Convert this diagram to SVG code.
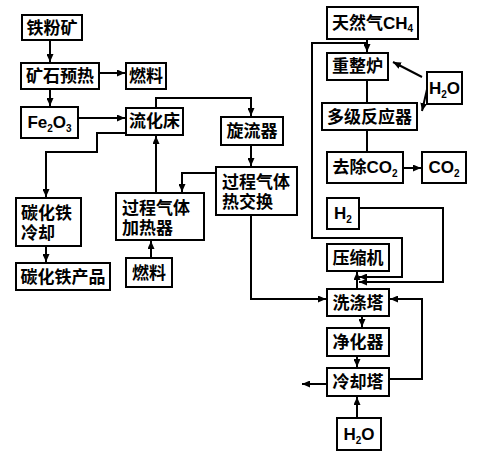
<svg xmlns="http://www.w3.org/2000/svg" width="494" height="454" viewBox="0 0 494 454">
<style>
.b{fill:#fff;stroke:#000;stroke-width:2}
.t{font-family:"Liberation Sans","Noto Sans CJK SC",sans-serif;font-size:17px;font-weight:bold;fill:#000}
.c{text-anchor:middle}
.s{font-size:10px}
.l{fill:none;stroke:#000;stroke-width:2}
</style>
<defs>
<marker id="a" markerUnits="userSpaceOnUse" markerWidth="8" markerHeight="7" refX="8" refY="3.5" orient="auto">
<path d="M0,0L8,3.5L0,7z" fill="#000"/>
</marker>
</defs>
<rect width="494" height="454" fill="#fff"/>
<g id="connectors">
<path class="l" d="M50 40V62" marker-end="url(#a)"/>
<path class="l" d="M99 73H125" marker-end="url(#a)"/>
<path class="l" d="M50 89V106" marker-end="url(#a)"/>
<path class="l" d="M78 118H125" marker-end="url(#a)"/>
<path class="l" d="M156 108V98H251V116" marker-end="url(#a)"/>
<path class="l" d="M126 133H97V152H46V197" marker-end="url(#a)"/>
<path class="l" d="M46 246V262" marker-end="url(#a)"/>
<path class="l" d="M156 193V136" marker-end="url(#a)"/>
<path class="l" d="M151 258V241" marker-end="url(#a)"/>
<path class="l" d="M216 173H182V192" marker-end="url(#a)"/>
<path class="l" d="M251 145V166" marker-end="url(#a)"/>
<path class="l" d="M251 215V299H326" marker-end="url(#a)"/>
<path class="l" d="M367 39V52" marker-end="url(#a)"/>
<path class="l" d="M367 43H312V238H402V277H359" marker-end="url(#a)"/>
<path class="l" d="M359 208H443V282H359" marker-end="url(#a)"/>
<path class="l" d="M357 289V272" marker-end="url(#a)"/>
<path class="l" d="M422 77L393 62" marker-end="url(#a)"/>
<path class="l" d="M428 85L422 111" marker-end="url(#a)"/>
<path class="l" d="M367 80V103"/>
<path class="l" d="M367 130V152"/>
<path class="l" d="M403 168H421" marker-end="url(#a)"/>
<path class="l" d="M362 316V327" marker-end="url(#a)"/>
<path class="l" d="M357 356V367" marker-end="url(#a)"/>
<path class="l" d="M327 384H302" marker-end="url(#a)"/>
<path class="l" d="M389 379H422V299H390" marker-end="url(#a)"/>
<path class="l" d="M357 418V397" marker-end="url(#a)"/>
</g>
<g id="n1"><rect class="b" x="22" y="15" width="60" height="25"/><text class="t c" x="52" y="34">铁粉矿</text></g>
<g id="n2"><rect class="b" x="21" y="63" width="78" height="26"/><text class="t c" x="60" y="82">矿石预热</text></g>
<g id="n3"><rect class="b" x="126" y="63" width="40" height="26"/><text class="t c" x="146" y="82">燃料</text></g>
<g id="n4"><rect class="b" x="21" y="107" width="57" height="31"/><text class="t c" x="49.5" y="128">Fe<tspan class="s" dy="4">2</tspan><tspan dy="-4">O</tspan><tspan class="s" dy="4">3</tspan></text></g>
<g id="n5"><rect class="b" x="126" y="108" width="57" height="27"/><text class="t c" x="154.5" y="127">流化床</text></g>
<g id="n6"><rect class="b" x="221" y="117" width="62" height="28"/><text class="t c" x="252" y="137">旋流器</text></g>
<g id="n7"><rect class="b" x="16" y="198" width="65" height="48"/><text class="t" x="21" y="219">碳化铁</text><text class="t" x="21" y="239">冷却</text></g>
<g id="n8"><rect class="b" x="16" y="263" width="94" height="27"/><text class="t c" x="63" y="283">碳化铁产品</text></g>
<g id="n9"><rect class="b" x="116" y="193" width="88" height="47"/><text class="t" x="122" y="214">过程气体</text><text class="t" x="122" y="234">加热器</text></g>
<g id="n10"><rect class="b" x="126" y="258" width="46" height="29"/><text class="t c" x="149" y="279">燃料</text></g>
<g id="n11"><rect class="b" x="216" y="167" width="81" height="48"/><text class="t" x="222" y="188">过程气体</text><text class="t" x="222" y="208">热交换</text></g>
<g id="n12"><rect class="b" x="327" y="7" width="91" height="32"/><text class="t c" x="372.5" y="29">天然气CH<tspan class="s" dy="3">4</tspan></text></g>
<g id="n13"><rect class="b" x="327" y="53" width="61" height="27"/><text class="t c" x="357.5" y="72">重整炉</text></g>
<g id="n14"><rect class="b" x="427" y="72" width="35" height="32"/><text class="t c" x="444.5" y="94">H<tspan class="s" dy="4">2</tspan><tspan dy="-4">O</tspan></text></g>
<g id="n15"><rect class="b" x="322" y="103" width="95" height="27"/><text class="t c" x="369.5" y="123">多级反应器</text></g>
<g id="n16"><rect class="b" x="327" y="152" width="76" height="31"/><text class="t c" x="365" y="173">去除CO<tspan class="s" dy="4">2</tspan></text></g>
<g id="n17"><rect class="b" x="422" y="152" width="44" height="31"/><text class="t c" x="444" y="173">CO<tspan class="s" dy="4">2</tspan></text></g>
<g id="n18"><rect class="b" x="327" y="198" width="32" height="31"/><text class="t c" x="343" y="219">H<tspan class="s" dy="4">2</tspan></text></g>
<g id="n19"><rect class="b" x="327" y="244" width="62" height="27"/><text class="t c" x="358" y="264">压缩机</text></g>
<g id="n20"><rect class="b" x="327" y="289" width="62" height="27"/><text class="t c" x="358" y="309">洗涤塔</text></g>
<g id="n21"><rect class="b" x="327" y="328" width="62" height="28"/><text class="t c" x="358" y="348">净化器</text></g>
<g id="n22"><rect class="b" x="327" y="368" width="62" height="28"/><text class="t c" x="358" y="388">冷却塔</text></g>
<g id="n23"><rect class="b" x="337" y="418" width="44" height="32"/><text class="t c" x="359" y="440">H<tspan class="s" dy="4">2</tspan><tspan dy="-4">O</tspan></text></g>
</svg>
